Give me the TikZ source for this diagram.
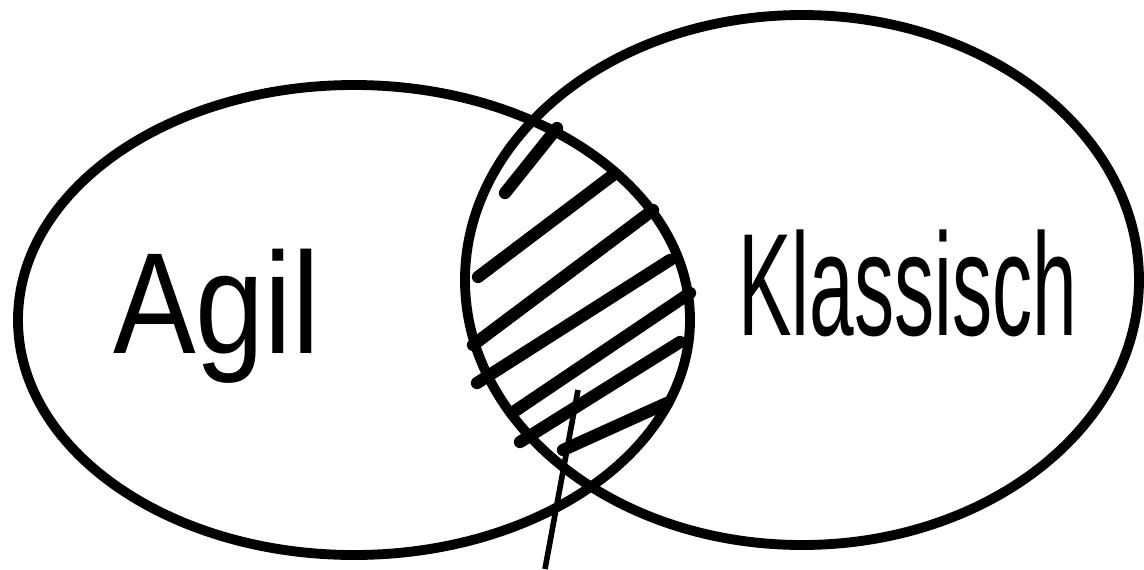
\documentclass[tikz,border=0pt]{standalone}
\usepackage{fontspec}
\setmainfont{Liberation Sans}

\begin{document}
\begin{tikzpicture}[
    x=0.02cm, y=-0.02cm,
    pen/.style={line width=5.6pt, line cap=round},
    hatch/.style={line width=7pt, line cap=round},
    pointer/.style={line width=3.2pt},
    word/.style={inner sep=0pt, anchor=base west, transform shape}
  ]
  \useasboundingbox (0,0) rectangle (1144,569);

  % the two sets
  \draw[pen] (354,320) ellipse [x radius=336, y radius=235];
  \draw[pen] (802,280) ellipse [x radius=337, y radius=265];

  % labels
  \node[word, xscale=0.86, font=\fontsize{82}{82}\selectfont] (agil)
    at (113,353) {Agil};
  \node[word, xscale=0.55, font=\fontsize{83}{83}\selectfont] (klassisch)
    at (738,335) {Klassisch};

  % hatched overlap
  \draw[hatch] (505,193) -- (557,128);
  \draw[hatch] (478,277) -- (613,175);
  \draw[hatch] (473,345) -- (653,210);
  \draw[hatch] (477,383) -- (670,260);
  \draw[hatch] (512,413) -- (690,293);
  \draw[hatch] (520,442) -- (680,342);
  \draw[hatch] (563,450) -- (667,403);

  % pointer out of the overlap
  \coordinate (tip) at (578,390);
  \coordinate (tail) at (545,569);
  \draw[pointer] (tip) -- (tail);
\end{tikzpicture}
\end{document}
